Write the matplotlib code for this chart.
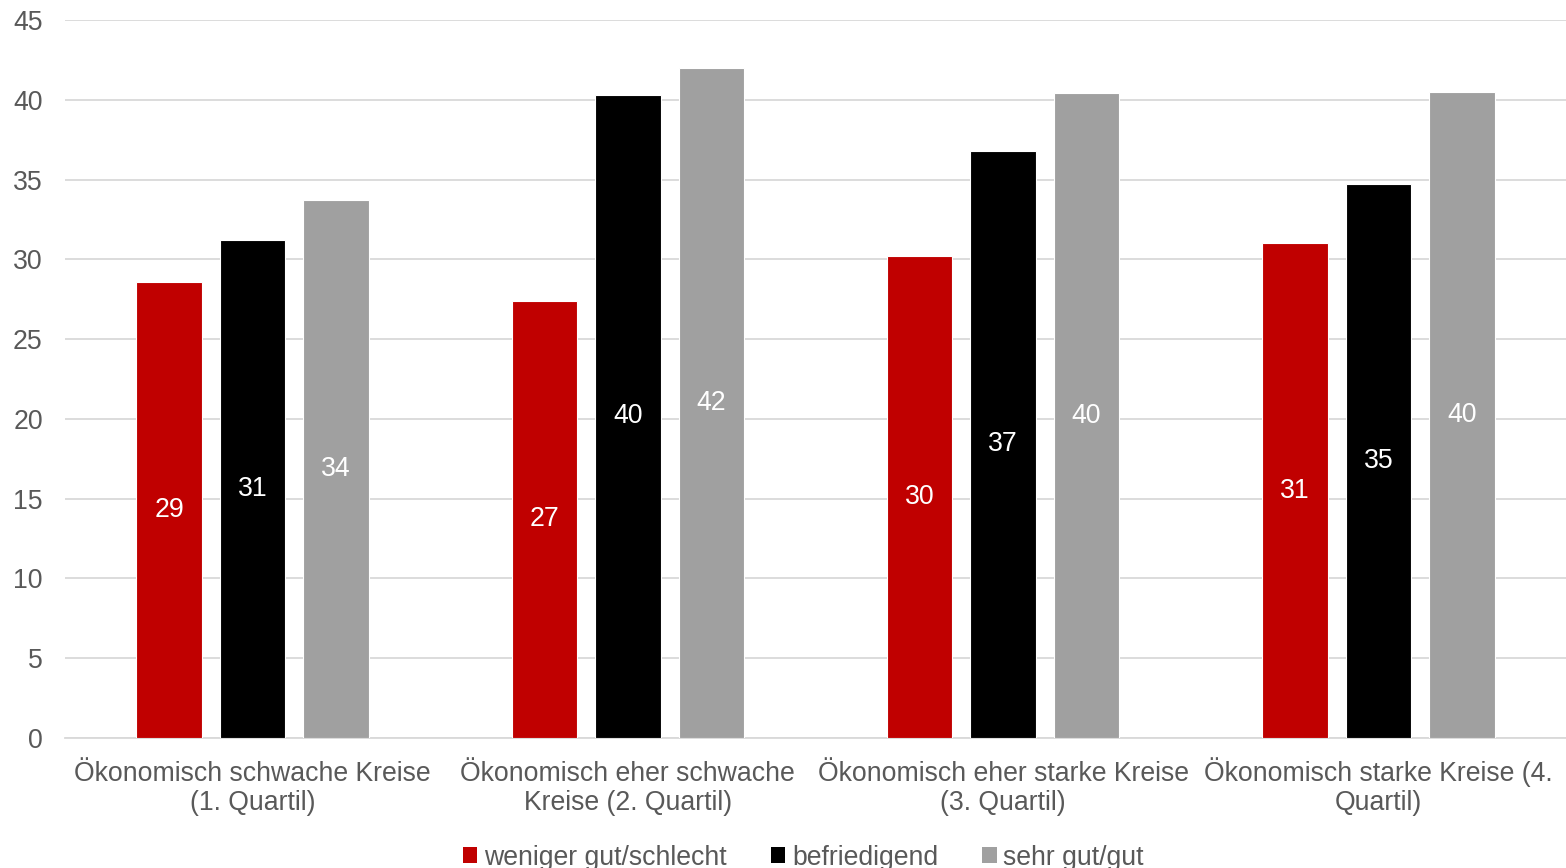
import matplotlib
matplotlib.use("Agg")
import matplotlib.pyplot as plt
import matplotlib.transforms as mtransforms
import numpy as np
from matplotlib.patches import Patch

plt.rcParams['font.family'] = ['Liberation Sans', 'DejaVu Sans']

categories = ["Ökonomisch schwache Kreise\n(1. Quartil)",
              "Ökonomisch eher schwache\nKreise (2. Quartil)",
              "Ökonomisch eher starke Kreise\n(3. Quartil)",
              "Ökonomisch starke Kreise (4.\nQuartil)"]
series_names = ["weniger gut/schlecht", "befriedigend", "sehr gut/gut"]
weniger = [28.6, 27.4, 30.2, 31.0]
befriedigend = [31.2, 40.3, 36.8, 34.7]
sehr_gut = [33.7, 42.0, 40.4, 40.5]
labels_weniger = ["29", "27", "30", "31"]
labels_befr = ["31", "40", "37", "35"]
labels_sehr = ["34", "42", "40", "40"]
colors = ["#C00000", "#000000", "#A0A0A0"]
yticks = [0, 5, 10, 15, 20, 25, 30, 35, 40, 45]

FS = 19.2
TXT = "#595959"

fig = plt.figure(figsize=(15.66, 8.68), dpi=100)
ax = fig.add_axes([65/1566, 1 - 738/868, 1501/1566, 718/868])

x = np.arange(len(categories))
w = 0.175
step = 0.2225
all_vals = [weniger, befriedigend, sehr_gut]
all_labels = [labels_weniger, labels_befr, labels_sehr]
for i, (vals, labs, c) in enumerate(zip(all_vals, all_labels, colors)):
    bars = ax.bar(x + (i - 1) * step, vals, width=w, color=c,
                  edgecolor="white", linewidth=0.8, zorder=3)
    texts = ax.bar_label(bars, labels=labs, label_type="center", color="white",
                         fontsize=FS)
    for t in texts:
        t.set_transform(t.get_transform() + mtransforms.ScaledTranslation(0, -3/100, fig.dpi_scale_trans))

ax.set_xlim(-0.5, 3.5)
ax.set_ylim(0, 45)
ax.set_yticks(yticks)
ax.set_xticks(x)
ax.set_xticklabels([])
ax.tick_params(axis='y', labelsize=FS, labelcolor=TXT, length=0, pad=16)
ax.tick_params(axis='x', length=0)
ax.yaxis.grid(True, color="#D9D9D9", linewidth=1.3, zorder=0)
ax.set_axisbelow(True)
for s in ["left", "right", "top"]:
    ax.spines[s].set_visible(False)
ax.spines["bottom"].set_color("#D9D9D9")
ax.spines["bottom"].set_linewidth(1.3)

# category labels, two lines each, baseline-aligned
base = ax.get_xaxis_transform()
for xi, cat in zip(x, categories):
    for j, line in enumerate(cat.split("\n")):
        tr = mtransforms.offset_copy(base, fig=fig, x=0, y=-(43 + 29 * j),
                                     units='dots')
        ax.text(xi, 0, line, transform=tr, ha="center", va="baseline",
                fontsize=FS, color=TXT)

handles = [Patch(facecolor=c, edgecolor="none") for c in colors]
fig.legend(handles, series_names, loc="center", bbox_to_anchor=(0.513, 0.012),
           ncol=3, frameon=False, fontsize=FS, labelcolor=TXT,
           handlelength=0.55, handleheight=0.55, handletextpad=0.25,
           columnspacing=1.65)

fig.savefig("out.png", dpi=100)
